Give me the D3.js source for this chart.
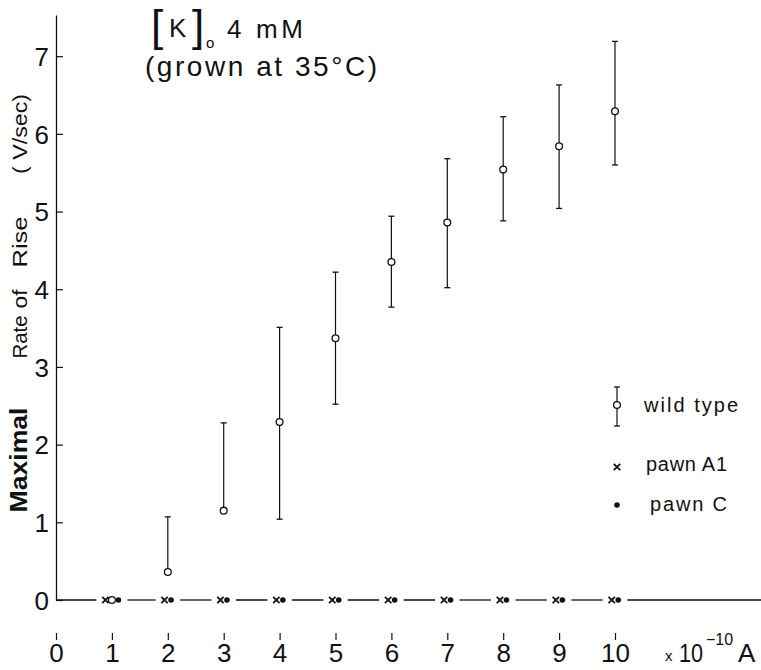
<!DOCTYPE html>
<html>
<head>
<meta charset="utf-8">
<script src="https://cdn.jsdelivr.net/npm/d3@7"></script>
<style>
  html, body { margin: 0; padding: 0; background: #fff; }
  svg { display: block; font-family: "Liberation Sans", Arial, sans-serif; }
</style>
</head>
<body>
<svg id="chart" width="761" height="670"></svg>
<script>
// Stimulus current (x 10^-10 A)
const currents = [1, 2, 3, 4, 5, 6, 7, 8, 9, 10];
// Wild type: mean maximal rate of rise (V/sec) with error-bar ends
const wildMean  = [0, 0.36, 1.15, 2.29, 3.37, 4.35, 4.86, 5.54, 5.84, 6.29];
const wildUpper = [null, 1.07, 2.28, 3.51, 4.22, 4.94, 5.68, 6.22, 6.63, 7.19];
const wildLower = [null, null, null, 1.04, 2.52, 3.77, 4.02, 4.88, 5.04, 5.60];
// Mutants: no spike at any current
const pawnA1 = [0, 0, 0, 0, 0, 0, 0, 0, 0, 0];
const pawnC  = [0, 0, 0, 0, 0, 0, 0, 0, 0, 0];
// Tick labels
const xTicks = [0, 1, 2, 3, 4, 5, 6, 7, 8, 9, 10];
const yTicks = [0, 1, 2, 3, 4, 5, 6, 7];

const svg = d3.select("#chart");
const W = 761;

const x = d3.scaleLinear().domain([0, 10]).range([56, 615]);
const y = d3.scaleLinear().domain([0, 7.53]).range([600, 15]);

// ---- y axis: ticks point inward, labels outside
const yAxis = d3.axisLeft(y).tickValues(yTicks).tickSize(-7).tickSizeOuter(0).tickPadding(7)
  .tickFormat(d3.format("d"));
const gy = svg.append("g").attr("transform", `translate(${x(0)},0)`).call(yAxis);
gy.select(".domain").attr("stroke", "#111").attr("stroke-width", 1.3);
gy.selectAll(".tick line").attr("stroke", "#111").attr("stroke-width", 1.2);
gy.selectAll(".tick text").attr("font-size", 26).attr("fill", "#111").attr("dy", "0.36em");

// ---- x axis: detached row of ticks and labels beneath the baseline
const xAxis = d3.axisBottom(x).tickValues(xTicks).tickSize(7).tickPadding(4)
  .tickFormat(d3.format("d"));
const gx = svg.append("g").attr("transform", "translate(0,633)").call(xAxis);
gx.select(".domain").remove();
gx.selectAll(".tick line").attr("stroke", "#111").attr("stroke-width", 1.2);
gx.selectAll(".tick text").attr("font-size", 26).attr("fill", "#111");

// ---- baseline markers: zero responses clustered at each current
const series = [
  { key: "A1",   vals: pawnA1 },
  { key: "wild", vals: wildMean },
  { key: "C",    vals: pawnC }
];
const spacing = 6.5;
const clusters = currents.map((c, i) => {
  const members = series.filter(s => s.vals[i] === 0).map(s => s.key);
  return { c, i, members };
});
const baseMarks = [];
clusters.forEach(cl => {
  const n = cl.members.length;
  cl.members.forEach((k, j) => {
    baseMarks.push({ key: k, cx: x(cl.c) + (j - (n - 1) / 2) * spacing, v: 0 });
  });
  cl.left = x(cl.c) - ((n - 1) / 2) * spacing - 4;
  cl.right = x(cl.c) + ((n - 1) / 2) * spacing + 4;
});

// baseline broken around each cluster of markers
const gap = 5;
const segs = [];
let start = x(0);
clusters.forEach(cl => { segs.push([start, cl.left - gap]); start = cl.right + gap; });
segs.push([start, W]);
svg.append("g").selectAll("line").data(segs).join("line")
  .attr("x1", d => d[0]).attr("x2", d => d[1])
  .attr("y1", y(0)).attr("y2", y(0))
  .attr("stroke", "#111").attr("stroke-width", 1.3);

function cross(g, cx, cy, r) {
  g.append("path")
    .attr("d", `M${cx - r},${cy - r}L${cx + r},${cy + r}M${cx + r},${cy - r}L${cx - r},${cy + r}`)
    .attr("stroke", "#111").attr("stroke-width", 1.8).attr("fill", "none");
}
function dot(g, cx, cy) {
  g.append("circle").attr("cx", cx).attr("cy", cy).attr("r", 2.8).attr("fill", "#111");
}
function ring(g, cx, cy) {
  g.append("circle").attr("cx", cx).attr("cy", cy).attr("r", 3.4)
    .attr("fill", "#fff").attr("stroke", "#111").attr("stroke-width", 1.3);
}

const gm = svg.append("g");
baseMarks.forEach(m => {
  if (m.key === "A1") cross(gm, m.cx, y(m.v), 3.2);
  else if (m.key === "C") dot(gm, m.cx, y(m.v));
  else ring(gm, m.cx, y(m.v));
});

// ---- wild-type error bars and means
const ge = svg.append("g");
const capW = 3;
currents.forEach((c, i) => {
  if (wildMean[i] === 0) return;
  const cx = x(c);
  const top = wildUpper[i] != null ? wildUpper[i] : wildMean[i];
  const bot = wildLower[i] != null ? wildLower[i] : wildMean[i];
  ge.append("line").attr("x1", cx).attr("x2", cx).attr("y1", y(top)).attr("y2", y(bot))
    .attr("stroke", "#111").attr("stroke-width", 1.2);
  if (wildUpper[i] != null)
    ge.append("line").attr("x1", cx - capW).attr("x2", cx + capW)
      .attr("y1", y(wildUpper[i])).attr("y2", y(wildUpper[i]))
      .attr("stroke", "#111").attr("stroke-width", 1.3);
  if (wildLower[i] != null)
    ge.append("line").attr("x1", cx - capW).attr("x2", cx + capW)
      .attr("y1", y(wildLower[i])).attr("y2", y(wildLower[i]))
      .attr("stroke", "#111").attr("stroke-width", 1.3);
  ring(ge, cx, y(wildMean[i]));
});

// ---- y-axis title, word by word
const yTitle = [
  { t: "Maximal", cy: 460, len: 105, size: 23, weight: "bold" },
  { t: "Rate",    cy: 337, len: 43,  size: 21, weight: "normal" },
  { t: "of",      cy: 299, len: 19,  size: 21, weight: "normal" },
  { t: "Rise",    cy: 242, len: 51,  size: 21, weight: "normal" },
  { t: "( V/sec)", cy: 134, len: 80, size: 21, weight: "normal" }
];
yTitle.forEach(w => {
  svg.append("text")
    .attr("transform", `translate(27,${w.cy}) rotate(-90)`)
    .attr("text-anchor", "middle")
    .attr("font-size", w.size).attr("font-weight", w.weight).attr("fill", "#111")
    .attr("textLength", w.len).attr("lengthAdjust", "spacingAndGlyphs")
    .text(w.t);
});

// ---- title
const gt = svg.append("g").attr("fill", "#111");
gt.append("text").attr("x", 151).attr("y", 41).attr("font-size", 44).text("[");
gt.append("text").attr("x", 169).attr("y", 37).attr("font-size", 26).text("K");
gt.append("text").attr("x", 192).attr("y", 41).attr("font-size", 44).text("]");
gt.append("text").attr("x", 206).attr("y", 48).attr("font-size", 15).text("o");
gt.append("text").attr("x", 227).attr("y", 38).attr("font-size", 26)
  .attr("textLength", 76).attr("lengthAdjust", "spacing").text("4 mM");
gt.append("text").attr("x", 145).attr("y", 76).attr("font-size", 28)
  .attr("textLength", 232).attr("lengthAdjust", "spacing").text("(grown at 35°C)");

// ---- x unit label
const gu = svg.append("g").attr("fill", "#111");
gu.append("text").attr("x", 665).attr("y", 661).attr("font-size", 15).text("x");
gu.append("text").attr("x", 679).attr("y", 662).attr("font-size", 26)
  .attr("textLength", 24).attr("lengthAdjust", "spacingAndGlyphs").text("10");
gu.append("text").attr("x", 706).attr("y", 645).attr("font-size", 16).text("−10");
gu.append("text").attr("x", 738).attr("y", 662).attr("font-size", 26).text("A");

// ---- legend
const gl = svg.append("g");
const lx = 617;
gl.append("line").attr("x1", lx).attr("x2", lx).attr("y1", 387).attr("y2", 426)
  .attr("stroke", "#111").attr("stroke-width", 1.2);
[387, 426].forEach(yy => gl.append("line").attr("x1", lx - capW).attr("x2", lx + capW)
  .attr("y1", yy).attr("y2", yy).attr("stroke", "#111").attr("stroke-width", 1.3));
ring(gl, lx, 405);
cross(gl, lx, 467, 3.2);
dot(gl, lx, 505);
const legendText = [
  { t: "wild type", x: 644, y: 412, len: 94 },
  { t: "pawn A1",   x: 646, y: 471, len: 81 },
  { t: "pawn C",    x: 650, y: 511, len: 77 }
];
legendText.forEach(l => gl.append("text").attr("x", l.x).attr("y", l.y)
  .attr("font-size", 20).attr("fill", "#111")
  .attr("textLength", l.len).attr("lengthAdjust", "spacing").text(l.t));
</script>
</body>
</html>
